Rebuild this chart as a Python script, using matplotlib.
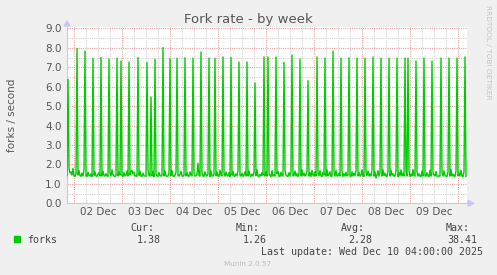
import numpy as np
import matplotlib.pyplot as plt
import matplotlib.dates as mdates
from matplotlib.patches import Rectangle, Polygon

# 30 minute averages, Dec 1 20:30 -> Dec 10 04:00
baseline = [
    1.42, 1.40, 1.78, 1.55, 1.62, 1.45, 1.80, 1.41, 1.38, 1.52, 1.40, 1.45, 1.68, 1.42, 1.39, 1.55, 1.40, 1.72, 1.44, 1.40,
    1.38, 1.60, 1.42, 1.40, 1.50, 1.38, 1.41, 1.44, 1.62, 1.40, 1.39, 1.48, 1.58, 1.40, 1.38, 1.40, 1.65, 1.43, 1.40, 1.52,
    1.40, 1.39, 1.42, 1.55, 1.40, 1.72, 1.48, 1.40, 1.38, 1.44, 1.40, 1.41, 1.60, 1.45, 1.40, 1.42, 1.38, 1.58, 1.40, 1.44,
    1.66, 1.40, 1.38, 1.46, 1.62, 1.70, 1.52, 1.60, 1.42, 1.40, 1.39, 1.41, 1.44, 1.65, 1.40, 1.38, 1.55, 1.42, 1.40, 1.40,
    1.38, 1.70, 1.42, 1.40, 1.45, 1.40, 1.62, 1.38, 1.40, 1.50, 1.40, 1.39, 1.58, 1.42, 1.40, 1.44, 1.40, 1.40, 1.66, 1.42,
    1.39, 1.40, 1.55, 1.40, 1.42, 1.68, 1.40, 1.38, 1.44, 1.60, 1.40, 1.42, 1.40, 1.50, 1.64, 1.40, 1.39, 1.45, 1.40, 1.41,
    1.58, 1.40, 1.38, 1.62, 1.45, 1.40, 1.40, 1.55, 1.40, 1.42, 1.48, 2.06, 1.42, 1.40, 1.40, 1.56, 1.40, 1.38, 1.62, 1.44,
    1.40, 1.52, 1.40, 1.38, 1.66, 1.42, 1.40, 1.50, 1.40, 1.41, 1.60, 1.40, 1.38, 1.70, 1.45, 1.40, 1.40, 1.55, 1.40, 1.62,
    1.42, 1.40, 1.58, 1.38, 1.40, 1.44, 1.64, 1.40, 1.39, 1.52, 1.40, 1.68, 1.40, 1.42, 1.40, 1.55, 1.38, 1.45, 1.62, 1.40,
    1.40, 1.40, 1.66, 1.42, 1.38, 1.50, 1.40, 1.60, 1.40, 1.42, 1.72, 1.40, 1.38, 1.48, 1.40, 1.58, 1.44, 1.40, 1.40, 1.62,
    1.40, 1.40, 1.55, 1.42, 1.38, 1.68, 1.40, 1.45, 1.40, 1.40, 1.52, 1.64, 1.40, 1.38, 1.60, 1.42, 1.40, 1.40, 1.70, 1.45,
    1.40, 1.38, 1.58, 1.40, 1.62, 1.40, 1.40, 1.44, 1.66, 1.40, 1.52, 1.38, 1.60, 1.40, 1.40, 1.72, 1.42, 1.55, 1.40, 1.48,
    1.65, 1.40, 1.40, 1.58, 1.38, 1.70, 1.44, 1.40, 1.62, 1.40, 1.40, 1.55, 1.42, 1.68, 1.40, 1.38, 1.60, 1.45, 1.40, 1.40,
    1.72, 1.40, 1.50, 1.62, 1.38, 1.40, 1.44, 1.58, 1.40, 1.70, 1.40, 1.42, 1.55, 1.40, 1.40, 1.66, 1.38, 1.52, 1.40, 1.60,
    1.40, 1.45, 1.70, 1.40, 1.38, 1.62, 1.40, 1.55, 1.42, 1.68, 1.40, 1.40, 1.58, 1.40, 1.44, 1.72, 1.40, 1.38, 1.40, 1.60,
    1.42, 1.66, 1.40, 1.52, 1.40, 1.70, 1.40, 1.40, 1.62, 1.30, 1.45, 1.68, 1.40, 1.58, 1.40, 1.40, 1.72, 1.42, 1.55, 1.40,
    1.38, 1.64, 1.40, 1.40, 1.70, 1.44, 1.52, 1.40, 1.40, 1.66, 1.40, 1.38, 1.58, 1.42, 1.72, 1.40, 1.55, 1.40, 1.40, 1.62,
    1.40, 1.40, 1.68, 1.38, 1.50, 1.40, 1.74, 1.42, 1.40, 1.40, 1.62, 1.40, 1.52, 1.40, 1.38, 1.66, 1.40, 1.44, 1.40, 1.40,
    1.58, 1.40, 1.38, 1.70, 1.40, 1.40, 1.55, 1.45, 1.40, 1.64, 1.40, 1.38, 1.42, 1.40, 1.40, 1.60, 1.40, 1.68, 1.42, 1.40,
    1.38, 1.62, 1.40, 1.40, 1.72, 1.40, 1.50, 1.40, 1.38, 1.66, 1.40, 1.42, 1.55, 1.40, 1.70, 1.40, 1.38, 1.62, 1.40, 1.38,
]

# the 4-hourly fork bursts (sample index, value)
spike_idx = [1, 10, 18, 26, 34, 42, 50, 54, 62, 71, 80, 84, 88, 96, 103, 110,
             118, 126, 134, 142, 148, 156, 164, 172, 180, 188, 197, 201, 209, 217, 225, 233,
             241, 250, 258, 266, 274, 282, 290, 298, 306, 314, 322, 330, 338, 341, 349, 357,
             365, 374, 382, 390, 398]
spike_val = [6.38, 7.97, 7.83, 7.46, 7.50, 7.42, 7.46, 7.32, 7.27, 7.50, 7.25, 5.47, 7.40, 8.02, 7.46, 7.46,
             7.49, 7.47, 7.78, 7.47, 7.46, 7.53, 7.50, 7.27, 7.27, 6.19, 7.53, 7.53, 7.53, 7.25, 7.63, 7.42,
             6.31, 7.53, 7.47, 7.83, 7.47, 7.49, 7.47, 7.47, 7.53, 7.47, 7.47, 7.47, 7.47, 7.47, 7.32, 7.47,
             7.32, 7.47, 7.47, 7.47, 7.53]

legend_heads = ["Cur:", "Min:", "Avg:", "Max:"]
legend_vals = ["1.38", "1.26", "2.28", "38.41"]

forks = np.array(baseline)
forks[spike_idx] = spike_val
times = np.datetime64("2025-12-01T20:30") + np.arange(len(forks)) * np.timedelta64(30, "m")

W, H = 497, 275
fig = plt.figure(figsize=(W / 100, H / 100), dpi=100, facecolor="#f0f0f0")
L, R, T, B = 67, 467, 27, 203.3
ax = fig.add_axes([L / W, 1 - B / H, (R - L) / W, (B - T) / H])
ax.set_facecolor("white")

ax.plot(times, forks, color="#00cc00", lw=1.0, zorder=3)

ax.set_xlim(np.datetime64("2025-12-01T20:30"), np.datetime64("2025-12-10T04:30"))
ax.set_ylim(0, 9.07)

major = "#eaa0a0"
minor = "#d2d2d2"
dots = (0, (1, 1))
ax.xaxis.set_major_locator(mdates.HourLocator(byhour=[12]))
ax.xaxis.set_major_formatter(mdates.DateFormatter("%d %b"))
for d in np.arange(np.datetime64("2025-12-02"), np.datetime64("2025-12-11"), np.timedelta64(1, "D")):
    ax.axvline(d, color=major, lw=0.8, ls=dots, zorder=1)
for h in np.arange(np.datetime64("2025-12-01T18"), np.datetime64("2025-12-10T06"), np.timedelta64(6, "h")):
    if h.astype("datetime64[h]").astype(int) % 24 != 0:
        ax.axvline(h, color=minor, lw=0.8, ls=dots, zorder=1)
ax.set_yticks(np.arange(0, 9.5, 1.0))
ax.set_yticklabels([f"{v:.1f}" for v in np.arange(0, 9.5, 1.0)])
for v in np.arange(1, 9.5, 1.0):
    ax.axhline(v, color=major, lw=0.8, ls=dots, zorder=1)
for v in np.arange(0.5, 9.0, 1.0):
    ax.axhline(v, color=minor, lw=0.8, ls=dots, zorder=1)

ax.tick_params(length=0, labelsize=7.5, labelcolor="#555555")
ax.tick_params(axis="y", pad=4)
ax.tick_params(axis="x", pad=3)
for s in ["top", "right"]:
    ax.spines[s].set_visible(False)
for s in ["left", "bottom"]:
    ax.spines[s].set_color("#c8c8f0")
    ax.spines[s].set_linewidth(0.8)

# axis arrows
fig.patches.append(Polygon([[L - 3, H - T + 1], [L + 3, H - T + 1], [L, H - T + 6]], closed=True,
                           transform=None, color="#c8c8f0"))
fig.patches.append(Polygon([[R + 1, H - B + 3], [R + 1, H - B - 3], [R + 7, H - B]], closed=True,
                           transform=None, color="#c8c8f0"))

fig.text(248 / W, 1 - 19 / H, "Fork rate - by week", ha="center", va="center",
         fontsize=9.5, color="#555555")
fig.text(12 / W, 1 - 115 / H, "forks / second", rotation=90, ha="center", va="center",
         fontsize=7.5, color="#555555")
fig.text(488 / W, 1 - 5 / H, "RRDTOOL / TOBI OETIKER", rotation=270, ha="center", va="top",
         fontsize=5.3, color="#c4c4c4")

mono = "DejaVu Sans Mono"
fig.patches.append(Rectangle((14, H - 242), 6, 6, transform=None, color="#00cc00"))
fig.text(27 / W, 1 - 240 / H, "forks", family=mono, fontsize=7.2, color="#444444", va="center")
head_x = [154, 260, 365, 470]
val_x = [161, 267, 372, 477]
for hx, hd in zip(head_x, legend_heads):
    fig.text(hx / W, 1 - 228 / H, hd, family=mono, fontsize=7.2, color="#444444", ha="right", va="center")
for vx, vl in zip(val_x, legend_vals):
    fig.text(vx / W, 1 - 240 / H, vl, family=mono, fontsize=7.2, color="#444444", ha="right", va="center")
fig.text(483 / W, 1 - 252 / H, "Last update: Wed Dec 10 04:00:00 2025", family=mono, fontsize=7.2,
         color="#444444", ha="right", va="center")
fig.text(248 / W, 1 - 264 / H, "Munin 2.0.57", fontsize=5.2, color="#bbbbbb", ha="center", va="center")

fig.savefig("out.png", dpi=100, facecolor=fig.get_facecolor())
